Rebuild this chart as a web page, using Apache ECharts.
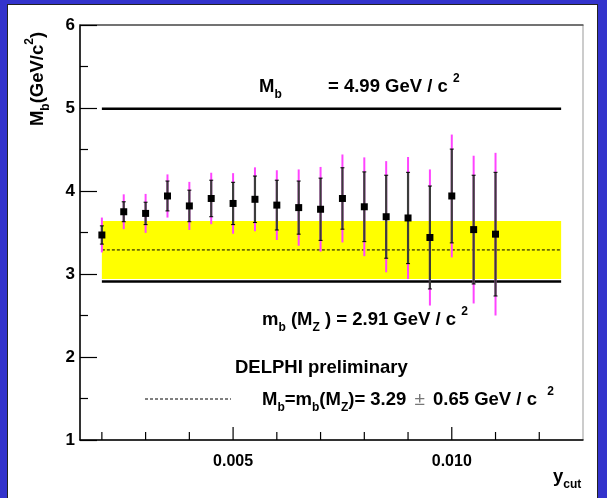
<!DOCTYPE html>
<html><head><meta charset="utf-8">
<script src="https://cdn.jsdelivr.net/npm/echarts@6/dist/echarts.min.js"></script>
<style>
html,body{margin:0;padding:0;background:#3333cc;overflow:hidden;}
#bg{position:absolute;left:7px;top:4px;width:589px;height:494px;background:#fff;border-left:1px solid #222;border-top:1px solid #222;border-right:1px solid #222;}
#chart{position:absolute;left:0;top:0;width:607px;height:498px;}
</style></head><body><div id="bg"></div><div id="chart"></div>
<script>
// ---- data ----
var ycut = [0.002,0.0025,0.003,0.0035,0.004,0.0045,0.005,0.0055,0.006,0.0065,0.007,0.0075,0.008,0.0085,0.009,0.0095,0.010,0.0105,0.011];
var mass = [3.47,3.75,3.73,3.94,3.82,3.91,3.85,3.90,3.83,3.80,3.78,3.91,3.81,3.69,3.675,3.44,3.94,3.535,3.48];
var statErr = [0.11,0.12,0.135,0.18,0.19,0.22,0.255,0.28,0.30,0.32,0.375,0.37,0.42,0.50,0.55,0.62,0.565,0.655,0.745];
var totErr  = [0.21,0.21,0.235,0.26,0.29,0.31,0.365,0.385,0.42,0.46,0.51,0.53,0.595,0.67,0.735,0.82,0.74,0.89,0.98];
var refRange = [0.002, 0.0125];
var poleMass = 4.99;
var runMass = 2.91;
var fitCenter = 3.29;
var bandLow = 2.94, bandHigh = 3.64;
var xTicks = [0.002,0.003,0.004,0.005,0.006,0.007,0.008,0.009,0.010,0.011,0.012];
var xMajor = [0.005,0.010];
var xTickLabels = ['0.005','0.010'];

var FONT = 'Liberation Sans, Arial, Helvetica, sans-serif';
var richBase = {
  m:{fontSize:18.5,fontWeight:'bold',fontFamily:FONT,lineHeight:28,fill:'#000'},
  s:{fontSize:12,fontWeight:'bold',fontFamily:FONT,lineHeight:13,verticalAlign:'bottom',fill:'#000'},
  p:{fontSize:12,fontWeight:'bold',fontFamily:FONT,lineHeight:13,verticalAlign:'top',fill:'#000'},
  pm:{fontSize:19,fontWeight:'normal',fontFamily:FONT,lineHeight:28,fill:'#777',padding:[0,3,0,3]}
};
function txt(x,y,text,opts){
  var o = {type:'text', x:x, y:y, z:100, style:{text:text, rich:richBase, fill:'#000',
    align:'left', textAlign:'left', verticalAlign:'middle', textVerticalAlign:'middle'}};
  if(opts){ for(var k in opts){ o[k]=opts[k]; } }
  return o;
}

var errData = ycut.map(function(x,i){return [x, mass[i], statErr[i], totErr[i]];});
var tickData = xTicks.map(function(v){return [v, 1, xMajor.indexOf(v)>=0?1:0];});

var chart = echarts.init(document.getElementById('chart'), null, {renderer:'canvas'});
chart.setOption({
  animation:false,
  backgroundColor:'transparent',
  grid:{left:80, top:25, right:24, bottom:58, show:true, borderColor:'#999', borderWidth:1},
  xAxis:[{type:'value', min:0.0015, max:0.013, interval:0.0005,
    axisLine:{lineStyle:{color:'#000', width:1.5}}, axisTick:{show:false}, splitLine:{show:false},
    axisLabel:{color:'#000', fontSize:16, fontWeight:'bold', fontFamily:FONT, margin:14,
      formatter:function(v){ for(var i=0;i<xMajor.length;i++){ if(Math.abs(v-xMajor[i])<1e-9) return xTickLabels[i]; } return ''; }}
  },{type:'value', position:'top', min:0.0015, max:0.013, interval:0.0005,
    axisLine:{lineStyle:{color:'#555', width:1.5}}, axisTick:{show:false}, axisLabel:{show:false}, splitLine:{show:false}}],
  yAxis:{type:'value', min:1, max:6, interval:1,
    axisLine:{show:true, lineStyle:{color:'#000', width:1.5}},
    axisTick:{inside:true, length:17, lineStyle:{color:'#000', width:1.2}},
    minorTick:{show:true, splitNumber:2, length:8, lineStyle:{color:'#000', width:1.2}},
    splitLine:{show:false}, minorSplitLine:{show:false},
    axisLabel:{color:'#000', fontSize:17, fontWeight:'bold', fontFamily:FONT, margin:5}
  },
  series:[
    {type:'custom', z:1, clip:false, data:[[refRange[0], refRange[1], bandLow, bandHigh]],
      renderItem:function(p, api){
        var a = api.coord([api.value(0), api.value(3)]);
        var b = api.coord([api.value(1), api.value(2)]);
        return {type:'rect', shape:{x:a[0], y:a[1], width:b[0]-a[0], height:b[1]-a[1]}, style:{fill:'#ffff00'}};
      }},
    {type:'line', z:2, symbol:'none', data:[[refRange[0], fitCenter],[refRange[1], fitCenter]],
      lineStyle:{color:'#000', width:1, type:[3,2]}},
    {type:'line', z:3, symbol:'none', data:[[refRange[0], poleMass],[refRange[1], poleMass]],
      lineStyle:{color:'#000', width:2.5}},
    {type:'line', z:3, symbol:'none', data:[[refRange[0], runMass],[refRange[1], runMass]],
      lineStyle:{color:'#000', width:2.5}},
    {type:'custom', z:5, clip:false, data:errData,
      renderItem:function(p, api){
        var x = api.value(0), y = api.value(1), s = api.value(2), t = api.value(3);
        var c = api.coord([x,y]);
        var tT = api.coord([x,y+t])[1], tB = api.coord([x,y-t])[1];
        var sT = api.coord([x,y+s])[1], sB = api.coord([x,y-s])[1];
        return {type:'group', children:[
          {type:'line', shape:{x1:c[0],y1:tT,x2:c[0],y2:tB}, style:{stroke:'#ff44ff', lineWidth:2}},
          {type:'line', shape:{x1:c[0],y1:sT,x2:c[0],y2:sB}, style:{stroke:'#3c3c3c', lineWidth:2.2}},
          {type:'line', shape:{x1:c[0]-2,y1:sT,x2:c[0]+2,y2:sT}, style:{stroke:'#000', lineWidth:1}},
          {type:'line', shape:{x1:c[0]-2,y1:sB,x2:c[0]+2,y2:sB}, style:{stroke:'#000', lineWidth:1}},
          {type:'rect', shape:{x:c[0]-3.5,y:c[1]-3.5,width:7,height:7}, style:{fill:'#000'}}
        ]};
      }},
    {type:'custom', z:6, clip:false, data:tickData,
      renderItem:function(p, api){
        var c = api.coord([api.value(0), api.value(1)]);
        var len = api.value(2) ? 13 : 8;
        return {type:'line', shape:{x1:c[0],y1:c[1],x2:c[0],y2:c[1]-len}, style:{stroke:'#000', lineWidth:1.2}};
      }}
  ],
  graphic:[
    txt(259, 87, '{m|M}{s|b}'),
    txt(328, 87, '{m|= 4.99 GeV / c }{p|2}'),
    txt(262, 320, '{m|m}{s|b}{m| (M}{s|Z}{m| ) = 2.91 GeV / c }{p|2}'),
    txt(235, 368, '{m|DELPHI preliminary}'),
    {type:'line', z:100, shape:{x1:145,y1:399,x2:231,y2:399}, style:{stroke:'#000', lineWidth:1, lineDash:[3,2]}},
    txt(262, 400, '{m|M}{s|b}{m|=m}{s|b}{m|(M}{s|Z}{m|)= 3.29 }{pm|±}{m| 0.65 GeV / c  }{p|2}'),
    txt(38, 79, '', {rotation:Math.PI/2, style:{text:'{m|M}{s|b}{m|(GeV/c}{p|2}{m|)}', rich:richBase, fill:'#000', align:'center', textAlign:'center', verticalAlign:'middle', textVerticalAlign:'middle'}}),
    txt(553, 477, '{m|y}{s|cut}')
  ]
});
</script></body></html>
